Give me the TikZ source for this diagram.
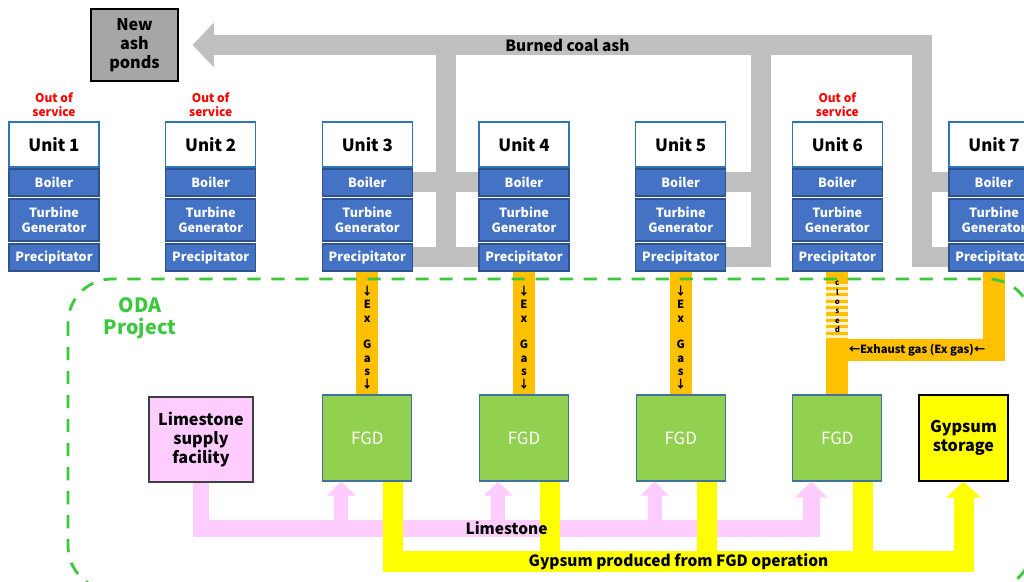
\documentclass[tikz,border=0pt]{standalone}
\usepackage{fontspec}
\setmainfont{Noto Sans CJK JP}
\usepackage{tikz}
\usetikzlibrary{arrows.meta,positioning}
\definecolor{unitedge}{HTML}{2E75B6}
\definecolor{partblue}{HTML}{4472C4}
\definecolor{partedge}{HTML}{2F528F}
\definecolor{ashgray}{HTML}{BFBFBF}
\definecolor{pondgray}{HTML}{A6A6A6}
\definecolor{odagreen}{HTML}{3CC83C}
\definecolor{gasorange}{HTML}{FFC000}
\definecolor{closedstripe}{HTML}{FFF2CC}
\definecolor{fgdgreen}{HTML}{92D050}
\definecolor{fgdedge}{HTML}{41719C}
\definecolor{limepink}{HTML}{FFCCFF}
\definecolor{gypyellow}{HTML}{FFFF00}

\begin{document}
\begin{tikzpicture}[
  x=0.025cm, y=-0.025cm,
  unitbox/.style={rectangle, draw=unitedge, fill=white, thick, minimum width=2.25cm, minimum height=1.125cm, font=\bfseries\fontsize{12}{14}\selectfont},
  partbox/.style={rectangle, draw=partedge, fill=partblue, text=white, thick, minimum width=2.25cm, inner sep=1pt, align=center, font=\bfseries\fontsize{9}{11}\selectfont},
  offline/.style={text=red, align=center, inner sep=0pt, font=\bfseries\fontsize{8.5}{10.5}\selectfont},
  pondbox/.style={rectangle, draw=black, fill=pondgray, thick, minimum width=2.175cm, minimum height=1.8cm, align=center, font=\bfseries\fontsize{11.5}{13.5}\selectfont},
  fgdbox/.style={rectangle, draw=fgdedge, fill=fgdgreen, text=white, thick, minimum width=2.225cm, minimum height=2.15cm, font=\fontsize{12}{14}\selectfont},
  limebox/.style={rectangle, draw=black!75, fill=limepink, thick, minimum width=2.6cm, minimum height=2.125cm, align=center, font=\bfseries\fontsize{11.5}{13.5}\selectfont},
  gypbox/.style={rectangle, draw=black, fill=gypyellow, thick, minimum width=2.225cm, minimum height=2.15cm, align=center, font=\bfseries\fontsize{11.5}{13.5}\selectfont},
  ash pipe/.style={draw=ashgray, line width=0.5cm},
  gas pipe/.style={draw=gasorange, line width=0.55cm},
  closed pipe/.style={draw=closedstripe, line width=0.55cm, dash pattern=on 0.08cm off 0.08cm},
  lime pipe/.style={draw=limepink, line width=0.42cm},
  lime branch/.style={draw=limepink, line width=0.35cm, -{Triangle[length=0.35cm, width=0.7cm]}},
  gyp pipe/.style={draw=gypyellow, line width=0.5cm},
  pipe label/.style={inner sep=0pt, font=\bfseries\fontsize{11}{13}\selectfont},
  gas label/.style={inner sep=0pt, align=center, font=\bfseries\fontsize{8}{9.5}\selectfont},
  shut label/.style={inner sep=0pt, align=center, font=\bfseries\fontsize{5.5}{6.7}\selectfont},
  oda frame/.style={draw=odagreen, line width=2pt, dash pattern=on 0.33cm off 0.27cm, rounded corners=1.1cm},
  oda label/.style={text=odagreen, align=center, font=\bfseries\fontsize{14}{16}\selectfont}
]
  \useasboundingbox (0,0) rectangle (1024,582);
  \clip (0,0) rectangle (1024,582);

  \foreach \i/\x in {1/54,2/210.7,3/367.3,4/524,5/680.7,6/837.3,7/994} {
    \node[unitbox] (u\i) at (\x,144.5) {Unit \i};
    \node[partbox, minimum height=0.675cm] (b\i) at (\x,182.5) {Boiler};
    \node[partbox, minimum height=1.05cm] (g\i) at (\x,220) {Turbine\\Generator};
    \node[partbox, minimum height=0.675cm] (p\i) at (\x,257.5) {Precipitator};
  }
  \foreach \i in {1,2,6}
    \node[offline, above=0.1cm of u\i] (off\i) {Out of\\service};

  \node[pondbox] (ponds) at (134.5,45) {New\\ash\\ponds};

  \coordinate (fgdrow) at (0,438);
  \foreach \i in {3,...,6}
    \node[fgdbox] (f\i) at (u\i |- fgdrow) {FGD};
  \node[limebox] (lime) at (201,439.5) {Limestone\\supply\\facility};
  \node[gypbox] (gyp) at (963.5,438) {Gypsum\\storage};

  \coordinate (ashR) at (922,45);
  \coordinate (ashM) at (760.5,45);
  \coordinate (ashL) at (445.5,45);
  \draw[ash pipe, -{Triangle[length=0.53cm, width=1.08cm]}, shorten >=0.35cm]
    (p7.west) -- (p7.west -| ashR) -- (ashR) -- (ponds.east);
  \draw[ash pipe] (b7.west) -- (b7.west -| ashR);
  \draw[ash pipe] (p5.east) -- (p5.east -| ashM) -- (ashM);
  \draw[ash pipe] (b5.east) -- (b5.east -| ashM);
  \draw[ash pipe] (ashL) -- (ashL |- p3.east);
  \draw[ash pipe] (b3.east) -- (b4.west);
  \draw[ash pipe] (p3.east) -- (p4.west);
  \node[pipe label] (ashtxt) at (567.5,45) {Burned coal ash};

  \foreach \i in {3,4,5}
    \draw[gas pipe] (p\i.south) -- (f\i.north)
      node[gas label, midway, yshift=-0.125cm] {↓\\E\\x\\[9.5pt]G\\a\\s\\↓};

  \coordinate (shut) at (837.3,340);
  \coordinate (exR) at (994,350);
  \coordinate (exL) at (837.3,350);
  \draw[gas pipe] (p6.south) -- (shut);
  \draw[closed pipe] ([yshift=-0.3cm]p6.south) -- (shut);
  \node[shut label] (shuttxt) at (837.3,307) {c\\l\\o\\s\\e\\d};
  \draw[gas pipe] (p7.south) -- (exR) -- (exL) -- (f6.north);
  \node[gas label] (extxt) at (917,350) {←Exhaust gas (Ex gas)←};

  \coordinate (lrow) at (0,528.5);
  \coordinate (grow) at (0,561.5);
  \foreach \i in {3,...,6} {
    \coordinate (lin\i) at ([xshift=-0.65cm]f\i.south);
    \coordinate (gout\i) at ([xshift=0.65cm]f\i.south);
  }
  \draw[lime pipe, -{Triangle[length=0.4cm, width=0.8cm]}]
    (lime.south) -- (lime.south |- lrow) -- (lin6 |- lrow) -- (lin6);
  \foreach \i in {3,4,5}
    \draw[lime branch] (lin\i |- lrow) -- (lin\i);

  \draw[gyp pipe, -{Triangle[length=0.4cm, width=0.85cm]}]
    (gout3) -- (gout3 |- grow) -- (gyp.south |- grow) -- (gyp.south);
  \foreach \i in {4,5,6}
    \draw[gyp pipe] (gout\i) -- (gout\i |- grow);

  \node[pipe label] (limetxt) at (506.5,528.5) {Limestone};
  \node[pipe label] (gyptxt) at (678.5,561.5) {Gypsum produced from FGD operation};

  \draw[oda frame] (68,279) rectangle (1032,590);
  \node[oda label] (oda) at (140,318) {ODA\\Project};
\end{tikzpicture}
\end{document}
